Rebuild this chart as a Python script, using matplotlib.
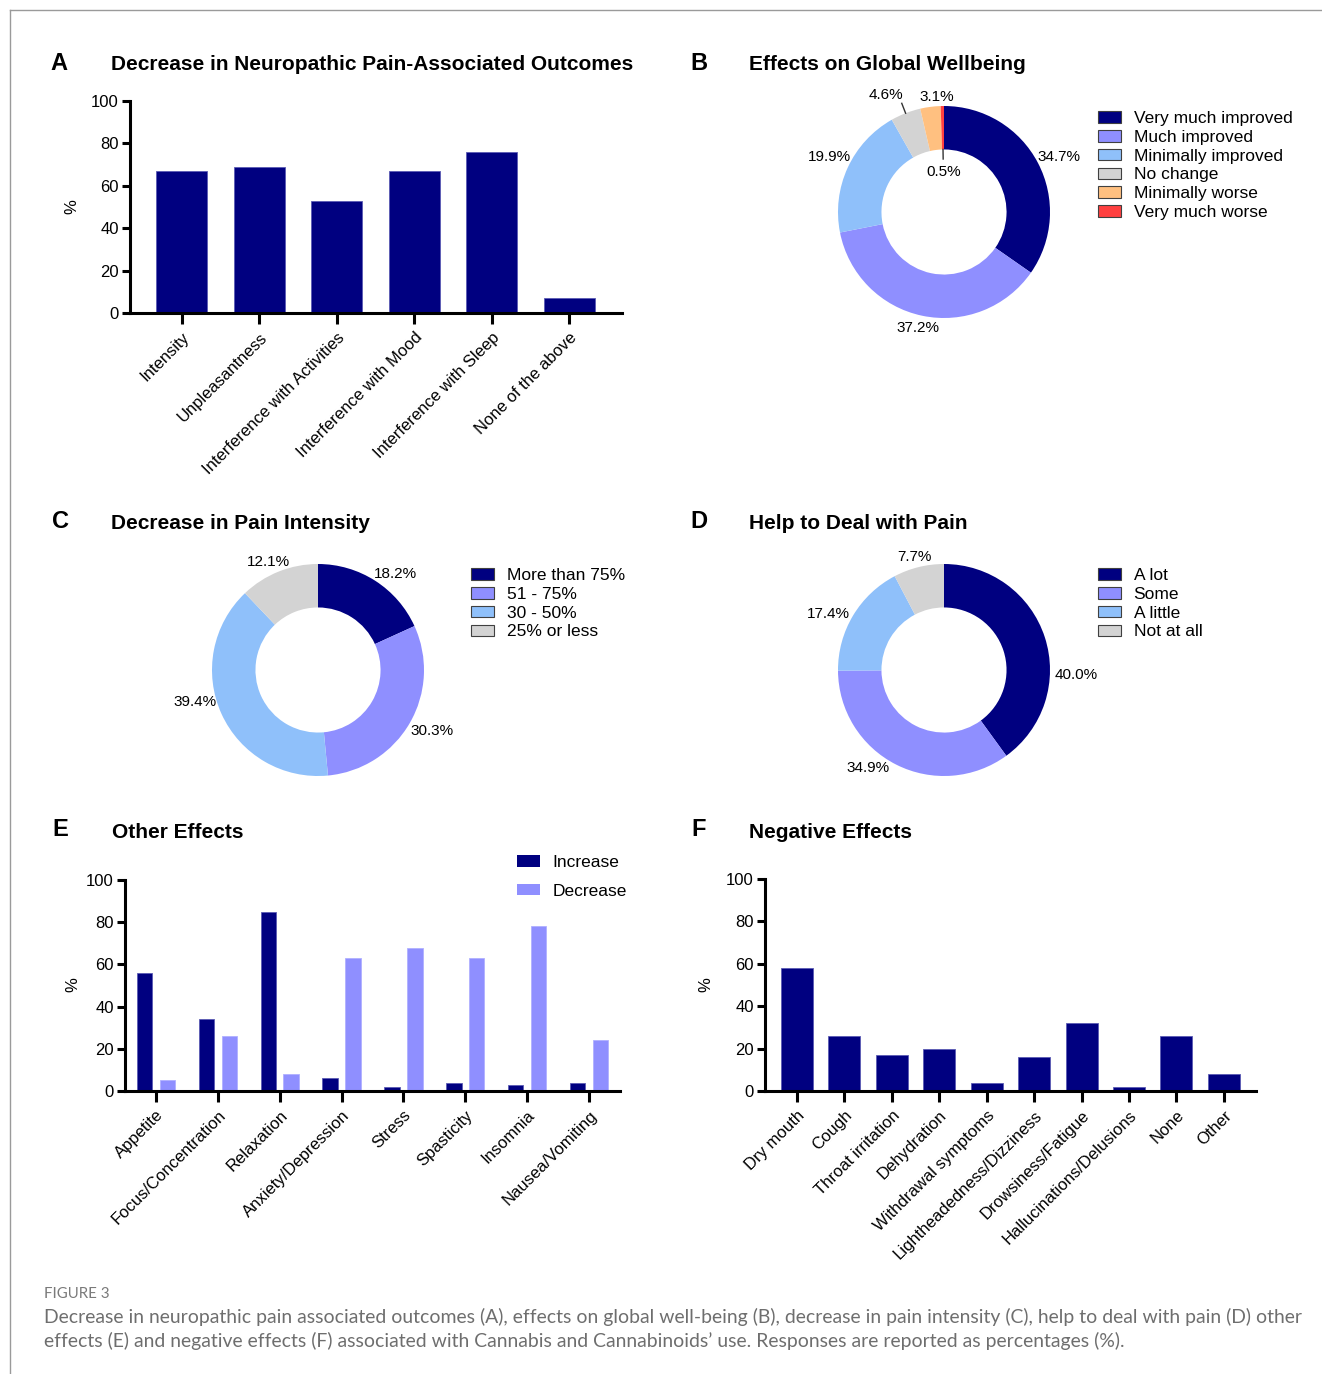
import matplotlib
matplotlib.use('Agg')
import matplotlib.pyplot as plt
from matplotlib.patches import Patch
from matplotlib.lines import Line2D
import numpy as np

# ---------------- data ----------------
a_categories = ["Intensity", "Unpleasantness", "Interference with Activities",
                "Interference with Mood", "Interference with Sleep", "None of the above"]
a_values = [67, 69, 53, 67, 76, 7]

b_labels = ["Very much improved", "Much improved", "Minimally improved",
            "No change", "Minimally worse", "Very much worse"]
b_values = [34.7, 37.2, 19.9, 4.6, 3.1, 0.5]

c_labels = ["More than 75%", "51 - 75%", "30 - 50%", "25% or less"]
c_values = [18.2, 30.3, 39.4, 12.1]

d_labels = ["A lot", "Some", "A little", "Not at all"]
d_values = [40.0, 34.9, 17.4, 7.7]

e_categories = ["Appetite", "Focus/Concentration", "Relaxation", "Anxiety/Depression",
                "Stress", "Spasticity", "Insomnia", "Nausea/Vomiting"]
e_increase = [56, 34, 85, 6, 2, 4, 3, 4]
e_decrease = [5, 26, 8, 63, 68, 63, 78, 24]
e_series = ["Increase", "Decrease"]

f_categories = ["Dry mouth", "Cough", "Throat irritation", "Dehydration",
                "Withdrawal symptoms", "Lightheadedness/Dizziness", "Drowsiness/Fatigue",
                "Hallucinations/Delusions", "None", "Other"]
f_values = [58, 26, 17, 20, 4, 16, 32, 2, 26, 8]

yticks = [0, 20, 40, 60, 80, 100]

# ---------------- style ----------------
NAVY = '#000080'
PERI = '#8F8FFF'
LBLUE = '#8FC0FA'
GREY = '#D3D3D3'
ORANGE = '#FFC080'
RED = '#FF4040'

W, H = 1322, 1374
fig = plt.figure(figsize=(W / 100, H / 100), dpi=100)
plt.rcParams['font.family'] = ['Liberation Sans', 'DejaVu Sans']


def px_axes(x0, y0, x1, y1):
    return fig.add_axes([x0 / W, 1 - y1 / H, (x1 - x0) / W, (y1 - y0) / H])


def style_bar_axes(ax, cats, xlim):
    for s in ['top', 'right']:
        ax.spines[s].set_visible(False)
    for s in ['left', 'bottom']:
        ax.spines[s].set_linewidth(2.2)
    ax.set_ylim(0, 100)
    ax.set_xlim(*xlim)
    ax.set_yticks(yticks)
    ax.set_xticks(range(len(cats)))
    ax.set_xticklabels(cats, rotation=45, ha='right', rotation_mode='anchor')
    ax.tick_params(axis='both', direction='out', width=2.2, labelsize=12, colors='black')
    ax.tick_params(axis='y', length=6, pad=2)
    ax.tick_params(axis='x', length=8, pad=4)


def fig_text(x, y, s, **kw):
    fig.text(x / W, 1 - y / H, s, **kw)


def donut(cx, cy, R, values, colors, label_r, label_dang=None, leaders=None):
    k = 1.5
    ax = px_axes(cx - k * R, cy - k * R, cx + k * R, cy + k * R)
    wedges, _ = ax.pie(values, colors=colors, startangle=90, counterclock=False,
                       radius=1, wedgeprops=dict(width=0.41, edgecolor='none'))
    ax.set_xlim(-k, k)
    ax.set_ylim(-k, k)
    ax.set_aspect('equal')
    ax.axis('off')
    if label_dang is None:
        label_dang = [0] * len(values)
    for i, (w, v) in enumerate(zip(wedges, values)):
        mid = np.deg2rad((w.theta1 + w.theta2) / 2)
        ang = mid + np.deg2rad(label_dang[i])
        r = label_r[i]
        ax.text(r * np.cos(ang), r * np.sin(ang), f'{v:.1f}%', ha='center', va='center',
                fontsize=11)
        if leaders and i in leaders:
            r0, r1 = leaders[i]
            ax.plot([r0 * np.cos(mid), r1 * np.cos(mid)], [r0 * np.sin(mid), r1 * np.sin(mid)],
                    color='#333333', lw=1.0)
    return ax


def legend_at(ax, labels, colors, x, y, spacing=0.22):
    handles = [Patch(facecolor=c, edgecolor='#404040', linewidth=0.8) for c in colors]
    ax.legend(handles, labels, loc='upper left', bbox_to_anchor=(x / W, 1 - y / H),
              bbox_transform=fig.transFigure, frameon=False, fontsize=12.5,
              handlelength=1.3, handleheight=0.65, labelspacing=spacing, borderpad=0,
              borderaxespad=0, handletextpad=0.75)


# ---------------- Panel A ----------------
axA = px_axes(130, 101, 622, 313)
axA.bar(range(len(a_values)), a_values, width=0.66, color=NAVY, edgecolor='#5a5ab4', linewidth=0.6)
style_bar_axes(axA, a_categories, (-0.67, 5.68))
fig_text(72, 207, '%', rotation=90, ha='center', va='center', fontsize=12)
fig_text(50, 64, 'A', fontsize=17, fontweight='bold', ha='left', va='center')
fig_text(111, 64, 'Decrease in Neuropathic Pain-Associated Outcomes', fontsize=15,
         fontweight='bold', ha='left', va='center')

# ---------------- Panel B ----------------
b_colors = [NAVY, PERI, LBLUE, GREY, ORANGE, RED]
axB = donut(944, 212, 106, b_values, b_colors,
            label_r=[1.2, 1.12, 1.2, 1.23, 1.09, 0.38],
            label_dang=[-2, -1, -1, 5, -4, 0],
            leaders={3: (1.0, 1.1), 5: (0.59, 0.5)})
legend_at(axB, b_labels, b_colors, 1098, 111)
fig_text(690, 64, 'B', fontsize=17, fontweight='bold', ha='left', va='center')
fig_text(749, 64, 'Effects on Global Wellbeing', fontsize=15, fontweight='bold',
         ha='left', va='center')

# ---------------- Panel C ----------------
c_colors = [NAVY, PERI, LBLUE, GREY]
axC = donut(318, 670, 106, c_values, c_colors, label_r=[1.16, 1.22, 1.2, 1.12],
            label_dang=[-6, 2, -10, 3])
legend_at(axC, c_labels, c_colors, 471, 568)
fig_text(52, 522, 'C', fontsize=17, fontweight='bold', ha='left', va='center')
fig_text(111, 524, 'Decrease in Pain Intensity', fontsize=15, fontweight='bold',
         ha='left', va='center')

# ---------------- Panel D ----------------
d_colors = [NAVY, PERI, LBLUE, GREY]
axD = donut(944, 670, 106, d_values, d_colors, label_r=[1.25, 1.17, 1.21, 1.1],
            label_dang=[-20, -11, 5, 1])
legend_at(axD, d_labels, d_colors, 1098, 568)
fig_text(690, 522, 'D', fontsize=17, fontweight='bold', ha='left', va='center')
fig_text(749, 524, 'Help to Deal with Pain', fontsize=15, fontweight='bold',
         ha='left', va='center')

# ---------------- Panel E ----------------
axE = px_axes(125, 880, 620, 1091)
xe = np.arange(len(e_categories))
b1 = axE.bar(xe - 0.185, e_increase, width=0.25, color=NAVY, edgecolor='#5a5ab4', linewidth=0.6)
b2 = axE.bar(xe + 0.185, e_decrease, width=0.25, color=PERI, edgecolor='#b0b0ff', linewidth=0.6)
style_bar_axes(axE, e_categories, (-0.5, 7.5))
handlesE = [Patch(facecolor=NAVY), Patch(facecolor=PERI)]
axE.legend(handlesE, e_series, loc='upper left', bbox_to_anchor=(517 / W, 1 - 855 / H),
           bbox_transform=fig.transFigure, frameon=False, fontsize=12.5,
           handlelength=1.3, handleheight=0.65, labelspacing=0.78, borderpad=0,
           borderaxespad=0, handletextpad=0.75)
fig_text(73, 985, '%', rotation=90, ha='center', va='center', fontsize=12)
fig_text(52, 829, 'E', fontsize=17, fontweight='bold', ha='left', va='center')
fig_text(112, 833, 'Other Effects', fontsize=15, fontweight='bold', ha='left', va='center')

# ---------------- Panel F ----------------
axF = px_axes(765, 879, 1256, 1091)
axF.bar(range(len(f_values)), f_values, width=0.675, color=NAVY, edgecolor='#5a5ab4', linewidth=0.6)
style_bar_axes(axF, f_categories, (-0.675, 9.68))
fig_text(706, 985, '%', rotation=90, ha='center', va='center', fontsize=12)
fig_text(691, 829, 'F', fontsize=17, fontweight='bold', ha='left', va='center')
fig_text(749, 833, 'Negative Effects', fontsize=15, fontweight='bold', ha='left', va='center')

# ---------------- caption & frame ----------------
cap_font = ['Lato', 'DejaVu Sans']
fig_text(44, 1294, 'FIGURE 3', fontsize=10.8, color='#7a7a7a', family=cap_font,
         ha='left', va='center')
fig_text(44, 1317, 'Decrease in neuropathic pain associated outcomes (A), effects on global '
         'well-being (B), decrease in pain intensity (C), help to deal with pain (D) other',
         fontsize=13.95, color='#6e6e6e', family=cap_font, ha='left', va='center')
fig_text(44, 1341, 'effects (E) and negative effects (F) associated with Cannabis and '
         'Cannabinoids\u2019 use. Responses are reported as percentages (%).',
         fontsize=13.95, color='#6e6e6e', family=cap_font, ha='left', va='center')

fig.add_artist(Line2D([10 / W, 1], [1 - 10 / H, 1 - 10 / H], transform=fig.transFigure,
                      color='#9a9a9a', lw=1.0))
fig.add_artist(Line2D([10 / W, 10 / W], [0, 1 - 10 / H], transform=fig.transFigure,
                      color='#9a9a9a', lw=1.0))

fig.savefig('out.png', dpi=100, facecolor='white')
